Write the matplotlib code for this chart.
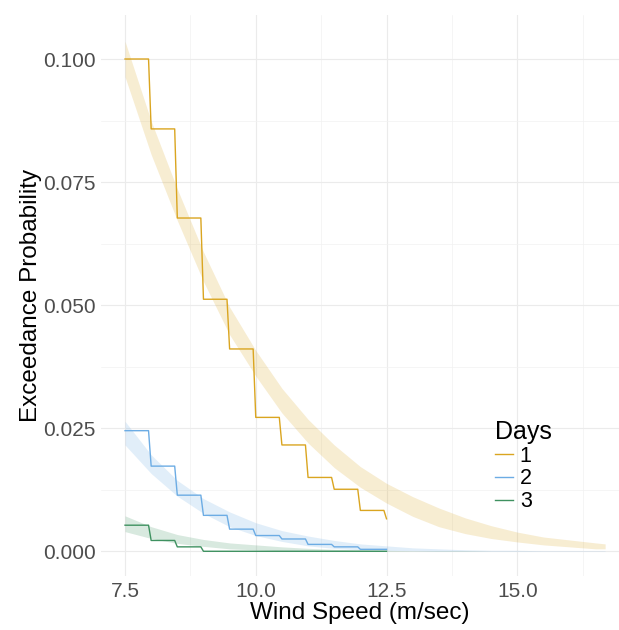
import numpy as np
import matplotlib
matplotlib.use("Agg")
import matplotlib.pyplot as plt
from matplotlib.ticker import MultipleLocator

# ── empirical exceedance steps (value held from each knot to the next) ──
step_x = [7.5, 8.0, 8.5, 9.0, 9.5, 10.0, 10.5, 11.0, 11.5, 12.0, 12.5]
day1_steps = [0.1000, 0.0858, 0.0677, 0.0512, 0.0411, 0.0272, 0.0216, 0.0150, 0.0126, 0.0083, 0.0066]
day2_steps = [0.0245, 0.0173, 0.0114, 0.0073, 0.0045, 0.0032, 0.0025, 0.0014, 0.0009, 0.0004, 0.0004]
day3_steps = [0.0053, 0.0022, 0.0009, 0.0, 0.0, 0.0, 0.0, 0.0, 0.0, 0.0, 0.0]

# ── fitted bands ──
band_x = [7.5, 8.0, 8.5, 9.0, 9.5, 10.0, 10.5, 11.0, 11.5, 12.0, 12.5,
          13.0, 13.5, 14.0, 14.5, 15.0, 15.5, 16.0, 16.5, 16.68]
day1_lo = [0.0964, 0.0806, 0.0672, 0.0548, 0.0440, 0.0356, 0.0281, 0.0220, 0.0170, 0.0130,
           0.0098, 0.0071, 0.0050, 0.0036, 0.0026, 0.0019, 0.0013, 0.0009, 0.0005, 0.0005]
day1_hi = [0.1036, 0.0874, 0.0736, 0.0608, 0.0496, 0.0408, 0.0331, 0.0268, 0.0216, 0.0172,
           0.0138, 0.0111, 0.0088, 0.0068, 0.0052, 0.0039, 0.0029, 0.0023, 0.0017, 0.0015]
day2_lo = [0.0216, 0.0158, 0.0112, 0.0077, 0.0050, 0.0032, 0.0020, 0.0011, 0.0006, 0.0003,
           0.0002, 0.0001, 0.0000, 0.0000, 0.0000, 0.0000, 0.0000, 0.0000, 0.0000, 0.0000]
day2_hi = [0.0264, 0.0196, 0.0144, 0.0107, 0.0080, 0.0058, 0.0042, 0.0031, 0.0022, 0.0015,
           0.0011, 0.0007, 0.0005, 0.0003, 0.0002, 0.0002, 0.0001, 0.0001, 0.0001, 0.0001]
day3_lo = [0.0040, 0.0026, 0.0016, 0.0010, 0.0005, 0.0003, 0.0001, 0.0000, 0.0000, 0.0000,
           0.0000, 0.0000, 0.0000, 0.0000, 0.0000, 0.0000, 0.0000, 0.0000, 0.0000, 0.0000]
day3_hi = [0.0072, 0.0050, 0.0034, 0.0024, 0.0017, 0.0013, 0.0009, 0.0006, 0.0004, 0.0003,
           0.0002, 0.0001, 0.0001, 0.0001, 0.0000, 0.0000, 0.0000, 0.0000, 0.0000, 0.0000]

days = ["1", "2", "3"]
colors = ["#DAA520", "#6CACE4", "#3E9160"]

plt.rcParams["font.family"] = ["Liberation Sans", "DejaVu Sans"]

W, H = 619, 630
fig = plt.figure(figsize=(W / 100, H / 100), dpi=100)
# panel edges in pixels: left 101, right 619, top 15, bottom 576
ax = fig.add_axes([101 / W, 1 - 576 / H, (619 - 101) / W, (576 - 15) / H])


def step_path(xs, vs, dx=0.05):
    px, py = [xs[0]], [vs[0]]
    for k in range(1, len(xs)):
        px += [xs[k] - dx, xs[k]]
        py += [vs[k - 1], vs[k]]
    return px, py


bands = [(day1_lo, day1_hi), (day2_lo, day2_hi), (day3_lo, day3_hi)]
steps = [day1_steps, day2_steps, day3_steps]

for (lo, hi), col in zip(bands, colors):
    ax.fill_between(band_x, lo, hi, color=col, alpha=0.2, linewidth=0, zorder=2)

for vals, col, lab in zip(steps, colors, days):
    sx, sy = step_path(step_x, vals)
    ax.plot(sx, sy, color=col, lw=1.0, label=lab, zorder=3)

ax.set_xlim(7.041, 16.945)
ax.set_ylim(-0.00502, 0.10894)

ax.xaxis.set_major_locator(MultipleLocator(2.5))
ax.xaxis.set_minor_locator(MultipleLocator(1.25))
ax.yaxis.set_major_locator(MultipleLocator(0.025))
ax.yaxis.set_minor_locator(MultipleLocator(0.0125))
ax.xaxis.set_major_formatter(plt.FuncFormatter(lambda v, p: f"{v:.1f}"))
ax.yaxis.set_major_formatter(plt.FuncFormatter(lambda v, p: f"{v:.3f}"))

ax.grid(which="major", color="#EBEBEB", lw=0.85)
ax.grid(which="minor", color="#F2F2F2", lw=0.5)
ax.set_axisbelow(True)
for s in ax.spines.values():
    s.set_visible(False)
ax.tick_params(which="both", length=0)
ax.tick_params(axis="both", labelsize=15, labelcolor="#4D4D4D", pad=4)

ax.set_xlabel("Wind Speed (m/sec)", fontsize=17.5, labelpad=1)
ax.set_ylabel("Exceedance Probability", fontsize=17.5, labelpad=0.5)

leg = ax.legend(title="Days", loc="upper left", bbox_to_anchor=(495 / W, 1 - 420 / H),
                bbox_transform=fig.transFigure, frameon=False, fontsize=15.5,
                title_fontsize=18, handlelength=0.85, handletextpad=0.3,
                labelspacing=0.08, borderpad=0, borderaxespad=0, alignment="left")

fig.savefig("out.png", dpi=100)
